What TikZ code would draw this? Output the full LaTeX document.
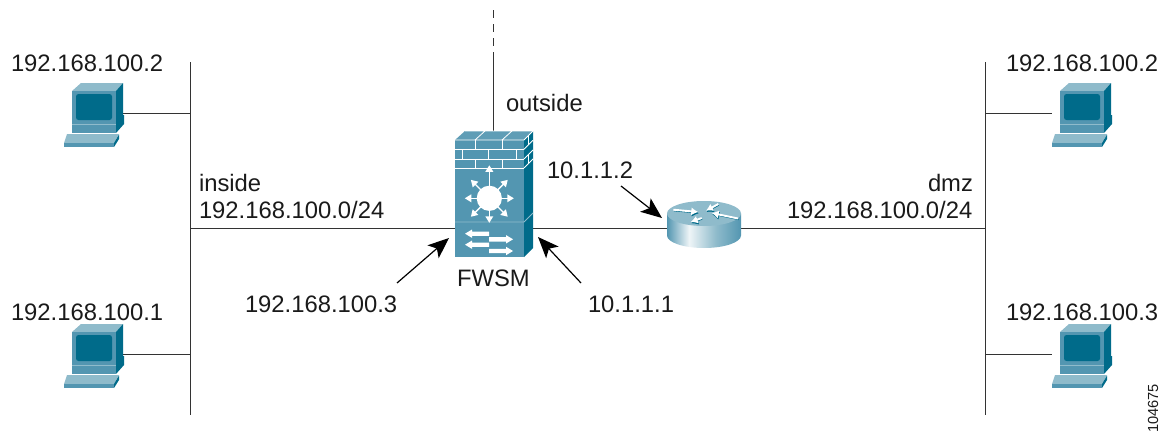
\documentclass[tikz,border=0pt]{standalone}
\usepackage{fontspec}
\setmainfont{Liberation Sans}
\usetikzlibrary{arrows.meta,shapes.geometric}
\definecolor{ciscoFront}{HTML}{5396B1}
\definecolor{ciscoDark}{HTML}{006B8A}
\definecolor{ciscoLight}{HTML}{8FBBCB}
\definecolor{lineGray}{HTML}{333333}
\definecolor{txt}{HTML}{1A1A1A}
\pgfdeclarehorizontalshading{routerbody}{100bp}{
 color(0bp)=(ciscoDark); color(25bp)=(ciscoFront); color(40bp)=(white!85!ciscoLight);
 color(58bp)=(ciscoLight); color(75bp)=(ciscoFront); color(100bp)=(ciscoDark)}
\tikzset{
 x=1pt,y=-1pt,
 wire/.style={draw=lineGray,line width=.85pt},
 dashwire/.style={wire,dash pattern=on 8pt off 6pt},
 lbl/.style={anchor=base west,inner sep=0pt,outer sep=0pt,text=txt,font=\fontsize{23.8}{26}\selectfont},
 callout/.style={draw=black,line width=1.2pt,-{Stealth[length=21pt,width=17pt,inset=5pt]}},
 anchorbox/.style={inner sep=0pt,outer sep=0pt,draw=none},
 wh/.style={draw=white,line width=.8pt},
 pc/.pic={
  \fill[ciscoLight] (0,8) -- (9,0) -- (51,0) -- (44,8) -- cycle;
  \fill[ciscoDark] (44,8) -- (51,0) -- (51,32) -- (52,32) -- (52,41) -- (44,50) -- cycle;
  \fill[ciscoFront] (0,8) rectangle (44,41);
  \fill[ciscoFront] (0,41.5) rectangle (44,50);
  \fill[ciscoDark,rounded corners=2.5pt] (4,11) rectangle (40,37);
  \draw[ciscoLight,line width=.5pt] (0,41.2) -- (44,41.2);
  \fill[ciscoLight] (-8,60) -- (-5,51) -- (44,51) -- (47,51) -- (42,60) -- cycle;
  \fill[ciscoDark] (42,60) -- (47,51.5) -- (47,56) -- (42,64) -- cycle;
  \fill[ciscoFront] (-8,60) rectangle (42,64);
 },
 firewall/.pic={
  \fill[ciscoFront] (0,9) rectangle (69,126);
  \fill[ciscoDark] (69,9) -- (78,0) -- (78,117) -- (69,126) -- cycle;
  \fill[ciscoFront!80!ciscoLight] (0,9) -- (10,0) -- (78,0) -- (69,9) -- cycle;
  \draw[wh] (0,9) -- (69,9) (20,9) -- (30,0) (47,9) -- (57,0) (10,0) -- (78,0);
  \draw[wh] (0,18.3) -- (69,18.3) (0,28) -- (69,28) (0,37) -- (69,37);
  \draw[wh] (20,9) -- (20,18.3) (47,9) -- (47,18.3);
  \draw[wh] (7,18.3) -- (7,28) (33,18.3) -- (33,28) (61,18.3) -- (61,28);
  \draw[wh] (20,28) -- (20,37) (47,28) -- (47,37);
  \draw[wh] (69,9) -- (78,0) (69,18.3) -- (78,9.3) (69,28) -- (78,19) (69,37) -- (78,28);
  \draw[wh] (73,14) -- (73,4.5) (73.5,33) -- (73.5,23);
  \draw[ciscoLight,line width=.9pt] (0,91) -- (69,91) -- (78,82);
  \fill[white] (34.3,67.3) circle[radius=12.6];
  \foreach \a/\l in {0/24.5,45/26,90/33,135/26,180/24.5,225/26,270/24.5,315/26}{
   \begin{scope}[shift={(34.3,67.3)},rotate=\a]
    \draw[white,line width=1.4pt] (0,0) -- (\l-3,0);
    \fill[white] (\l,0) -- (\l-6.5,-4) -- (\l-6.5,4) -- cycle;
   \end{scope}}
  \foreach \y in {102.7,113.7}{
   \fill[white] (10,\y) -- (17,\y-4.2) -- (17,\y-2.2) -- (34,\y-2.2) -- (34,\y+2.2) -- (17,\y+2.2) -- (17,\y+4.2) -- cycle;}
  \foreach \y in {108.3,120}{
   \fill[white] (58,\y) -- (51,\y-4.2) -- (51,\y-2.2) -- (34,\y-2.2) -- (34,\y+2.2) -- (51,\y+2.2) -- (51,\y+4.2) -- cycle;}
 },
 routerpic/.pic={
  \shade[shading=routerbody] (-37,0) -- (-37,22) arc[start angle=180,end angle=0,x radius=37,y radius=12.5] -- (37,0) -- cycle;
  \fill[ciscoLight] (0,0) ellipse[x radius=37,y radius=12.5];
  \foreach \ax/\ay/\bx/\by in {-30.7/-3.8/-5.7/-1.5, 34/5/7.7/-0.5, 14.3/-9.5/2/-2.8, -2.3/4.5/-13.3/8.5}{
   \draw[ciscoDark,line width=.8pt,-{Latex[length=7pt,width=8pt]}] (\ax+.6,\ay+1.2) -- (\bx+.6,\by+1.2);
   \draw[white,line width=1.9pt,-{Latex[length=7pt,width=8pt]}] (\ax,\ay) -- (\bx,\by);}
 },
}
\begin{document}
\begin{tikzpicture}
\useasboundingbox (0,0) rectangle (1161,431);
\node[anchorbox,minimum width=78pt,minimum height=126pt] (fw) at (494,194) {};
\node[anchorbox,ellipse,minimum width=74pt,minimum height=47pt] (rt) at (704,224.5) {};
\node[anchorbox,minimum width=8pt,minimum height=42pt] (pcA) at (119,113) {};
\node[anchorbox,minimum width=8pt,minimum height=42pt] (pcB) at (119,354) {};
\node[anchorbox,minimum width=8pt,minimum height=42pt] (pcC) at (1056,113) {};
\node[anchorbox,minimum width=8pt,minimum height=42pt] (pcD) at (1056,354) {};
\coordinate (lt) at (190,62); \coordinate (lb) at (190,415);
\coordinate (rt1) at (985,62); \coordinate (rb) at (985,415);
\coordinate (ljA) at (190,113); \coordinate (ljB) at (190,354);
\coordinate (rjA) at (985,113); \coordinate (rjB) at (985,354);
\coordinate (lm) at (190,228); \coordinate (rm) at (985,228);
\coordinate (fwL) at (455,228); \coordinate (fwR) at (533,228);
\coordinate (rtL) at (667,228); \coordinate (rtR) at (741,228);
\coordinate (upTop) at (493,10); \coordinate (upMid) at (493,57); \coordinate (fwTop) at (493,135);
\draw[wire] (lt) -- (lb);
\draw[wire] (rt1) -- (rb);
\draw[wire] (ljA) -- (pcA);
\draw[wire] (ljB) -- (pcB);
\draw[wire] (rjA) -- (pcC);
\draw[wire] (rjB) -- (pcD);
\draw[wire] (lm) -- (fwL);
\draw[wire] (fwR) -- (rtL);
\draw[wire] (rtR) -- (rm);
\draw[dashwire] (upTop) -- (upMid);
\draw[wire] (upMid) -- (fwTop);
\pic at (72,83) {pc};
\pic at (72,324) {pc};
\pic at (1060,83) {pc};
\pic at (1060,324) {pc};
\pic at (455,131) {firewall};
\pic at (704,213.5) {routerpic};
\node[lbl] (a1) at (11,71) {192.168.100.2};
\node[lbl] (a2) at (11,320) {192.168.100.1};
\node[lbl] (a3) at (1006,71) {192.168.100.2};
\node[lbl] (a4) at (1006,320) {192.168.100.3};
\node[lbl] (b1) at (199,191) {inside};
\node[lbl] (b2) at (199,218) {192.168.100.0/24};
\node[lbl] (b3) at (928,191) {dmz};
\node[lbl] (b4) at (787,218) {192.168.100.0/24};
\node[lbl] (c1) at (506,111) {outside};
\node[lbl] (c2) at (547,178) {10.1.1.2};
\node[lbl] (c3) at (457,286) {FWSM};
\node[lbl] (c4) at (245,312) {192.168.100.3};
\node[lbl] (c5) at (588,312) {10.1.1.1};
\node[anchor=base west,inner sep=0pt,rotate=90,text=txt,font=\fontsize{14.6}{17}\selectfont] (id) at (1158,433) {104675};
\coordinate (t1) at (449,238); \coordinate (t2) at (538,237); \coordinate (t3) at (662,218);
\coordinate (s1) at (397,283); \coordinate (s2) at (581,283); \coordinate (s3) at (621,186);
\draw[callout] (s1) -- (t1);
\draw[callout] (s2) -- (t2);
\draw[callout] (s3) -- (t3);
\end{tikzpicture}
\end{document}
